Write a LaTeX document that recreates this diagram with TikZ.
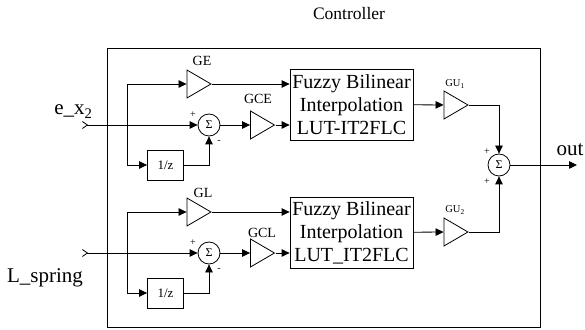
\documentclass[tikz,border=0pt]{standalone}
\usepackage{fontspec}
\setmainfont{Liberation Serif}
\usetikzlibrary{arrows.meta,shapes.geometric}

\tikzset{
  gain/.style={draw,isosceles triangle,isosceles triangle stretches,
    minimum width=28pt,minimum height=24pt,inner sep=0pt},
  sumnode/.style={draw,circle,minimum size=22pt,inner sep=0pt,
    font=\fontsize{12}{12}\selectfont},
  delaybox/.style={draw,minimum width=36pt,minimum height=30pt,inner sep=0pt,
    font=\fontsize{13}{13}\selectfont},
  flcbox/.style={draw,minimum width=123pt,minimum height=71pt,align=center,
    inner sep=0pt,font=\fontsize{20}{23}\selectfont},
  lbl/.style={font=\fontsize{14}{14}\selectfont,inner sep=0pt,anchor=base},
  gulbl/.style={font=\fontsize{10.5}{10.5}\selectfont,inner sep=0pt,anchor=base},
  biglbl/.style={font=\fontsize{21}{21}\selectfont,inner sep=0pt,anchor=base},
  sgn/.style={font=\fontsize{10}{10}\selectfont,inner sep=0pt},
  inport/.style={{Straight Barb[reversed,length=5pt,width=7pt]}->},
}

\begin{document}
\begin{tikzpicture}[x=1pt,y=1pt,line width=0.8pt,>={Triangle[length=8pt,width=7.5pt]}]
	\useasboundingbox (0,0) rectangle (585,329);
	\draw (107,2) rectangle (540,281);
	\node[lbl,font=\fontsize{17.5}{17.5}\selectfont] (ctl) at (349,309) {Controller};

	% upper channel
	\coordinate (in1) at (82,204);
	\coordinate (br1) at (127,204);
	\node[biglbl,anchor=base west] (lex) at (54,214) {e\_x\textsubscript{2}};
	\node[gain] (ge) at (195,245) {};
	\node[sumnode] (s1) at (209,204) {Σ};
	\node[gain] (gce) at (258.5,204) {};
	\node[delaybox] (d1) at (165.5,164) {1/z};
	\node[flcbox] (fz1) at (351.5,224.5) {Fuzzy Bilinear\\Interpolation\\LUT-IT2FLC};
	\node[gain] (gu1) at (452,224) {};
	\node[lbl] (lge) at (202,263) {GE};
	\node[lbl] (lgce) at (258,225) {GCE};
	\node[gulbl] (lgu1) at (455,242) {GU\textsubscript{1}};
	\node[sgn] (p1) at (193,214) {+};
	\node[sgn] (m1) at (219,187) {-};
	\draw[inport] (in1) -- (s1);
	\draw[->] (br1) |- (ge);
	\draw[->] (br1) |- (d1);
	\draw[->] (d1) -| (s1);
	\draw[->] (s1) -- (gce);
	\draw[->] (ge) -- (ge -| fz1.west);
	\draw[->] (gce) -- (gce -| fz1.west);
	\draw[->] (fz1) -- (gu1);

	% lower channel
	\coordinate (in2) at (82,76);
	\coordinate (br2) at (127,76);
	\node[biglbl] (lls) at (45,47) {L\_spring};
	\node[gain] (gl) at (195,117) {};
	\node[sumnode] (s2) at (209,76) {Σ};
	\node[gain] (gcl) at (258.5,76) {};
	\node[delaybox] (d2) at (165.5,36) {1/z};
	\node[flcbox] (fz2) at (351.5,96.5) {Fuzzy Bilinear\\Interpolation\\LUT\_IT2FLC};
	\node[gain] (gu2) at (452,97) {};
	\node[lbl] (lgl) at (203,131) {GL};
	\node[lbl] (lgcl) at (262,92) {GCL};
	\node[gulbl] (lgu2) at (455,116) {GU\textsubscript{2}};
	\node[sgn] (p2) at (193,86) {+};
	\node[sgn] (m2) at (219,59) {-};
	\draw[inport] (in2) -- (s2);
	\draw[->] (br2) |- (gl);
	\draw[->] (br2) |- (d2);
	\draw[->] (d2) -| (s2);
	\draw[->] (s2) -- (gcl);
	\draw[->] (gl) -- (gl -| fz2.west);
	\draw[->] (gcl) -- (gcl -| fz2.west);
	\draw[->] (fz2) -- (gu2);

	% output sum
	\node[sumnode] (s3) at (499,164) {Σ};
	\coordinate (out) at (577,164);
	\node[biglbl] (lout) at (570,173) {out};
	\node[sgn] (p3) at (487,177) {+};
	\node[sgn] (p4) at (487,147) {+};
	\draw[->] (gu1) -| (s3);
	\draw[->] (gu2) -| (s3);
	\draw[->] (s3) -- (out);
\end{tikzpicture}
\end{document}
